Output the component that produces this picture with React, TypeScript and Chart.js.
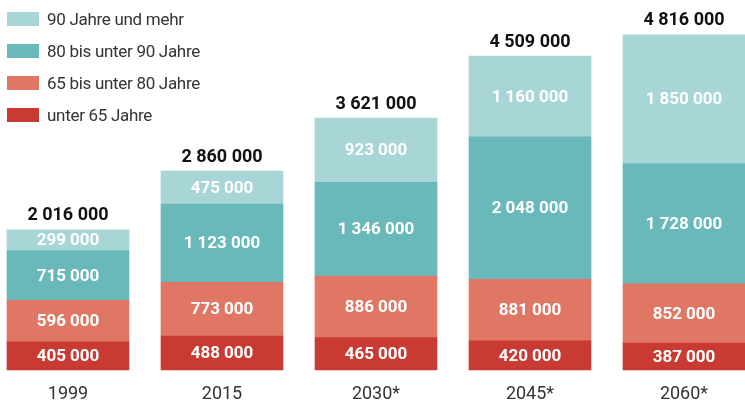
import React, { useEffect, useRef } from "react";
import { Chart, registerables } from "chart.js";

Chart.register(...registerables);

const categories = ["1999", "2015", "2030*", "2045*", "2060*"];
const under65 = [405000, 488000, 465000, 420000, 387000];
const from65to80 = [596000, 773000, 886000, 881000, 852000];
const from80to90 = [715000, 1123000, 1346000, 2048000, 1728000];
const over90 = [299000, 475000, 923000, 1160000, 1850000];
const totals = [2016000, 2860000, 3621000, 4509000, 4816000];

const seriesNames = ["unter 65 Jahre", "65 bis unter 80 Jahre", "80 bis unter 90 Jahre", "90 Jahre und mehr"];
const seriesColors = ["#c93a32", "#e07764", "#69b8ba", "#a8d5d6"];

const fmt = (n: number) => String(n).replace(/\B(?=(\d{3})+(?!\d))/g, " ");

const FONT = "Roboto, 'Noto Sans', sans-serif";

const labelPlugin = {
  id: "barLabels",
  afterDatasetsDraw(chart: any) {
    const ctx = chart.ctx;
    ctx.save();
    ctx.textAlign = "center";
    ctx.textBaseline = "middle";
    const n = chart.data.datasets.length;
    for (let i = 0; i < n; i++) {
      const meta = chart.getDatasetMeta(i);
      const data = chart.data.datasets[i].data as number[];
      meta.data.forEach((el: any, j: number) => {
        const p = el.getProps(["x", "y", "base"], true);
        ctx.fillStyle = "#ffffff";
        ctx.font = `bold 17px ${FONT}`;
        ctx.fillText(fmt(data[j]), p.x, (p.y + p.base) / 2 + 1);
        if (i === n - 1) {
          ctx.fillStyle = "#111111";
          ctx.font = `bold 18px ${FONT}`;
          ctx.fillText(fmt(totals[j]), p.x, p.y - 14);
        }
      });
    }
    ctx.restore();
  },
};

export default function App() {
  const ref = useRef<HTMLCanvasElement | null>(null);
  useEffect(() => {
    if (!ref.current) return;
    const datasets = [under65, from65to80, from80to90, over90].map((d, i) => ({
      label: seriesNames[i],
      data: d,
      backgroundColor: seriesColors[i],
      borderWidth: 0,
      clip: false as any,
      barThickness: 122,
    }));
    const chart = new Chart(ref.current, {
      type: "bar",
      data: { labels: categories, datasets },
      options: {
        animation: false,
        responsive: true,
        maintainAspectRatio: false,
        layout: { padding: { left: 68, right: 61, top: 22, bottom: 0 } },
        plugins: { legend: { display: false }, tooltip: { enabled: false } },
        scales: {
          x: {
            stacked: true,
            offset: false,
            grid: { display: false, drawTicks: false },
            border: { display: false },
            afterFit: (scale: any) => {
              scale.height = 31;
            },
            ticks: {
              color: "#333333",
              padding: 15,
              font: { family: FONT, size: 18, lineHeight: 1 },
              maxRotation: 0,
            },
          },
          y: {
            stacked: true,
            display: false,
            min: 0,
            max: 5000000,
          },
        },
      },
      plugins: [labelPlugin],
    });
    return () => chart.destroy();
  }, []);

  const legendItems = [3, 2, 1, 0];
  return (
    <div style={{ position: "fixed", left: 0, top: 0, width: 745, height: 401, background: "#fff" }}>
      <canvas ref={ref} />
      <div style={{ position: "absolute", left: 7, top: 0 }}>
        {legendItems.map((i, k) => (
          <div
            key={i}
            style={{
              position: "absolute",
              left: 0,
              top: 19 + k * 32 - 10,
              height: 20,
              display: "flex",
              alignItems: "center",
              whiteSpace: "nowrap",
            }}
          >
            <span style={{ display: "inline-block", width: 32, height: 14, background: seriesColors[i] }} />
            <span
              style={{
                marginLeft: 8,
                fontFamily: FONT,
                fontSize: 17,
                color: "#333",
                letterSpacing: -0.3,
              }}
            >
              {seriesNames[i]}
            </span>
          </div>
        ))}
      </div>
    </div>
  );
}
